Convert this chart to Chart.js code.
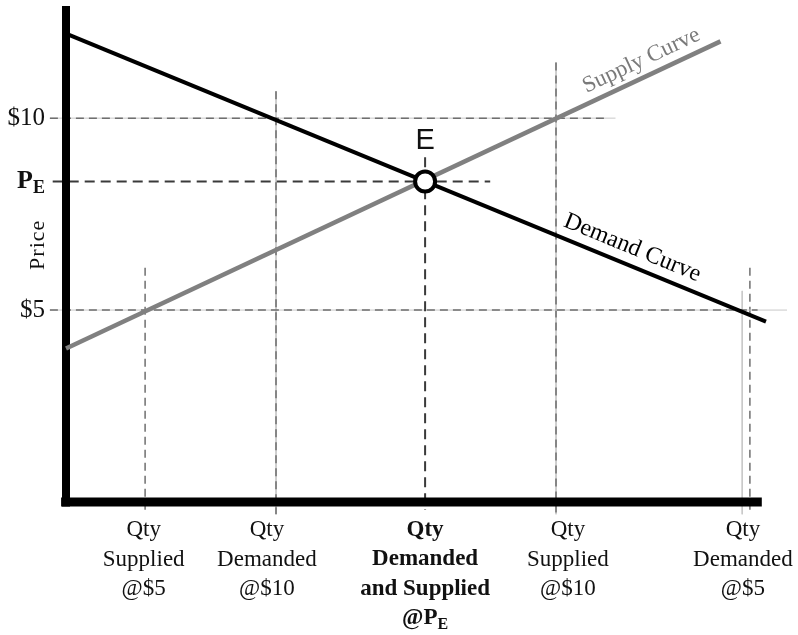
<!DOCTYPE html>
<html>
<head>
<meta charset="utf-8">
<script src="https://cdn.jsdelivr.net/npm/chart.js@4.4.0/dist/chart.umd.min.js"></script>
<style>
html, body { margin: 0; padding: 0; background: #fff; }
canvas { display: block; }
</style>
</head>
<body>
<canvas id="chart" width="798" height="635"></canvas>
<script>
// values (quantity units, price in $)
const demandCurve = [{x: 0, y: 12.2}, {x: 10, y: 4.7}];
const supplyCurve = [{x: 0, y: 4.0}, {x: 9.35, y: 12.0}];
const equilibrium = [{x: 5.13, y: 8.35}];

const priceTicks = [10, 8.35, 5];
const priceLabels = ['$10', 'P|E', '$5'];

// where the dashed guides drop to the quantity axis
const qtyTicks = [1.13, 3, 5.13, 7, 9.77];
const qtyLabelAt = [1.11, 2.87, 5.13, 7.17, 9.67];
const qtyLabels = [
    ['Qty', 'Supplied', '@$5'],
    ['Qty', 'Demanded', '@$10'],
    ['Qty', 'Demanded', 'and Supplied', '@P|E'],
    ['Qty', 'Supplied', '@$10'],
    ['Qty', 'Demanded', '@$5']
];

// guide extents
const hGuides = [
    {p: 10, from: -0.23, to: 7.7, solidTo: 7.85},
    {p: 5, from: -0.23, to: 9.88, solidTo: 10.3}
];
const vGuides = [
    {q: qtyTicks[0], top: 6.1, solid: false},
    {q: qtyTicks[1], top: 10.7, solid: true},
    {q: qtyTicks[3], top: 11.45, solid: true},
    {q: qtyTicks[4], top: 6.1, solid: false}
];
const extraSolid = {q: 9.66, top: 5.5};
const tickBottom = -0.32;

const serif = '"Liberation Serif", "DejaVu Serif", serif';

function seg(a, b) { return [a, b]; }

function line(data, color, width, dash) {
    return {
        type: 'scatter', data, showLine: true, pointRadius: 0,
        borderColor: color, borderWidth: width, borderDash: dash || [],
        borderCapStyle: 'butt', clip: false
    };
}

const guideColor = '#6f6f6f';
const guideDash = [8, 5];
const lightColor = '#c8c8c8';

const datasets = [
    {
        type: 'scatter', data: equilibrium, pointRadius: 10, pointHoverRadius: 10,
        pointBackgroundColor: '#fff', pointBorderColor: '#000', pointBorderWidth: 4, clip: false
    },
    line(demandCurve, '#000', 4),
    line(supplyCurve, '#808080', 4.5),
    // axes
    line(seg({x: 0, y: 12.92}, {x: 0, y: -0.12}), '#000', 8),
    line(seg({x: -0.07, y: 0}, {x: 9.94, y: 0}), '#000', 9),
    // equilibrium guides
    line(seg({x: -0.19, y: equilibrium[0].y}, {x: 6.06, y: equilibrium[0].y}), '#3a3a3a', 2, [10, 6]),
    line(seg({x: equilibrium[0].x, y: 8.98}, {x: equilibrium[0].x, y: -0.2}), '#3a3a3a', 2, [10, 6])
];

hGuides.forEach(g => {
    datasets.push(line(seg({x: g.from, y: g.p}, {x: g.to, y: g.p}), guideColor, 1.5, guideDash));
    datasets.push(line(seg({x: g.from, y: g.p}, {x: g.solidTo, y: g.p}), lightColor, 1));
});
vGuides.forEach(g => {
    datasets.push(line(seg({x: g.q, y: g.top}, {x: g.q, y: tickBottom}), guideColor, 1.5, guideDash));
    if (g.solid) datasets.push(line(seg({x: g.q, y: g.top}, {x: g.q, y: tickBottom}), lightColor, 1));
});
datasets.push(line(seg({x: extraSolid.q, y: extraSolid.top}, {x: extraSolid.q, y: tickBottom}), lightColor, 1));

// text with "|" marking a subscript part
function drawSub(ctx, text, x, y, size, bold, align) {
    const parts = text.split('|');
    const w = bold ? 'bold ' : '';
    const sub = Math.round(size * 0.68);
    ctx.font = w + size + 'px ' + serif;
    const w1 = ctx.measureText(parts[0]).width;
    let w2 = 0;
    if (parts[1]) {
        ctx.font = w + sub + 'px ' + serif;
        w2 = ctx.measureText(parts[1]).width;
    }
    const total = w1 + w2;
    let left = x;
    if (align === 'center') left = x - total / 2;
    if (align === 'right') left = x - total;
    ctx.textAlign = 'left';
    ctx.textBaseline = 'middle';
    ctx.font = w + size + 'px ' + serif;
    ctx.fillText(parts[0], left, y);
    if (parts[1]) {
        ctx.font = w + sub + 'px ' + serif;
        ctx.fillText(parts[1], left + w1, y + size * 0.28);
    }
}

const labelsPlugin = {
    id: 'labels',
    afterDatasetsDraw(chart) {
        const ctx = chart.ctx;
        const xs = chart.scales.x, ys = chart.scales.y;
        ctx.save();
        ctx.fillStyle = '#111';

        priceTicks.forEach((p, i) => {
            const y = ys.getPixelForValue(p);
            const isEq = priceLabels[i].includes('|');
            drawSub(ctx, priceLabels[i], 45, y, isEq ? 26 : 25, isEq, 'right');
        });

        qtyLabels.forEach((lines, i) => {
            const x = xs.getPixelForValue(qtyLabelAt[i]);
            lines.forEach((t, j) => {
                drawSub(ctx, t, x, 530 + j * 29.5, 23, i === 2, 'center');
            });
        });

        // Price axis title
        ctx.save();
        ctx.translate(xs.getPixelForValue(-0.4), ys.getPixelForValue(6.7));
        ctx.rotate(-Math.PI / 2);
        ctx.font = '22px ' + serif;
        ctx.letterSpacing = '1px';
        ctx.textAlign = 'center';
        ctx.textBaseline = 'middle';
        ctx.fillText('Price', 0, 0);
        ctx.restore();

        // E marker
        const ex = xs.getPixelForValue(equilibrium[0].x);
        const ey = ys.getPixelForValue(equilibrium[0].y);
        ctx.font = '29px "Liberation Sans", Arial, sans-serif';
        ctx.textAlign = 'center';
        ctx.textBaseline = 'middle';
        ctx.fillText('E', ex, ey - 40);

        // curve names, rotated along their lines
        function angleOf(data) {
            const dx = xs.getPixelForValue(data[1].x) - xs.getPixelForValue(data[0].x);
            const dy = ys.getPixelForValue(data[1].y) - ys.getPixelForValue(data[0].y);
            return Math.atan2(dy, dx);
        }
        ctx.save();
        ctx.translate(xs.getPixelForValue(8.22), ys.getPixelForValue(11.5));
        ctx.rotate(angleOf(supplyCurve));
        ctx.fillStyle = '#7a7a7a';
        ctx.font = '23px ' + serif;
        ctx.fillText('Supply Curve', 0, 0);
        ctx.restore();

        ctx.save();
        ctx.translate(xs.getPixelForValue(8.09), ys.getPixelForValue(6.62));
        ctx.rotate(angleOf(demandCurve));
        ctx.fillStyle = '#000';
        ctx.font = '24px ' + serif;
        ctx.fillText('Demand Curve', 0, 0);
        ctx.restore();

        ctx.restore();
    }
};

new Chart(document.getElementById('chart'), {
    type: 'scatter',
    data: {datasets},
    options: {
        responsive: false,
        animation: false,
        devicePixelRatio: 1,
        layout: {autoPadding: false, padding: {left: 66, right: 11, top: 3, bottom: 133}},
        scales: {
            x: {type: 'linear', min: 0, max: 10.3, display: false},
            y: {type: 'linear', min: 0, max: 13, display: false}
        },
        plugins: {legend: {display: false}, tooltip: {enabled: false}}
    },
    plugins: [labelsPlugin]
});
</script>
</body>
</html>
